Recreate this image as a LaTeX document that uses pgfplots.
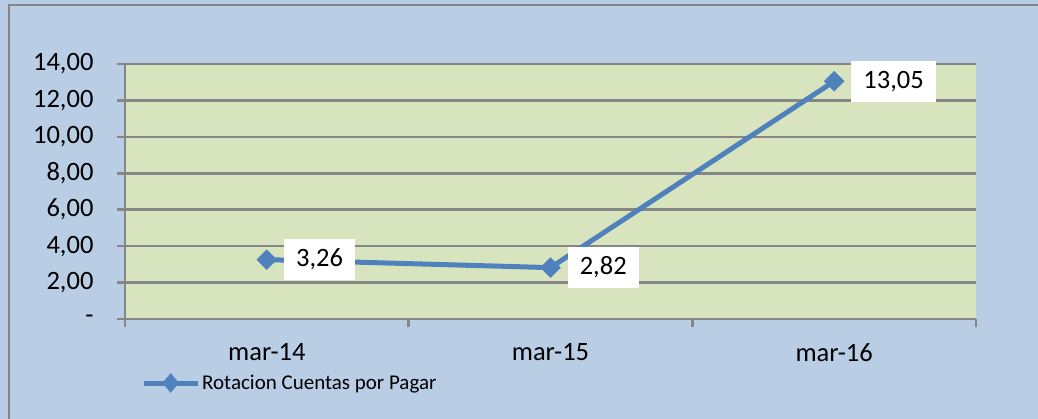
\documentclass[border=0pt]{standalone}
\usepackage{pgfplots}
\pgfplotsset{compat=1.18}
\usepackage{fontspec}
\setmainfont{Carlito}
\definecolor{bgblue}{HTML}{B9CDE5}
\definecolor{plotgreen}{HTML}{D7E4BD}
\definecolor{gridgray}{HTML}{868686}
\definecolor{lineblue}{HTML}{4F81BD}
\begin{document}
\begin{tikzpicture}[x=1pt,y=1pt]
\useasboundingbox (0,0) rectangle (1038,419);
\fill[bgblue] (0,0) rectangle (1038,419);
\draw[gridgray, line width=2.5pt] (9,-5) -- (9,414) -- (1045,414);
\begin{axis}[
  at={(125pt,100pt)}, anchor=south west,
  scale only axis, width=851pt, height=255pt,
  xmin=-0.5, xmax=2.5, ymin=0, ymax=14,
  axis background/.style={fill=plotgreen},
  axis x line*=bottom, axis y line*=left,
  axis line style={gridgray, line width=2.5pt, -},
  tick align=outside,
  xtick={0,1,2}, xticklabels={mar-14,mar-15,mar-16},
  minor xtick={-0.5,0.5,1.5,2.5},
  major x tick style={draw=none},
  minor tick length=8pt, major tick length=8pt,
  ytick={0,2,4,6,8,10,12,14},
  yticklabels={{-},{2,00},{4,00},{6,00},{8,00},{10,00},{12,00},{14,00}},
  tick style={gridgray, line width=2.5pt},
  ymajorgrids, major grid style={gridgray, line width=2.5pt},
  every tick label/.append style={font=\fontsize{26.5}{30}\selectfont, text=black},
  yticklabel style={xshift=-20pt},
  xticklabel style={yshift=-13pt},
  legend style={at={(axis description cs:0.0188,-0.251)}, anchor=west, draw=none, fill=none,
    inner sep=0pt, font=\fontsize{21}{24}\selectfont},
  legend image code/.code={
    \draw[lineblue, line width=5pt] (0pt,0pt) -- (54pt,0pt);
    \fill[lineblue] (27pt,6pt) -- (32pt,0pt) -- (27pt,-6pt) -- (22pt,0pt) -- cycle;
  },
]
\addplot[lineblue, line width=5pt, mark=square*, mark size=7pt,
  mark options={rotate=45, line width=0.5pt, fill=lineblue},
  nodes near coords={\pgfmathprintnumber[fixed,fixed zerofill,precision=2,use comma,assume math mode=true]{\pgfplotspointmeta}},
  every node near coord/.style={anchor=west, xshift=17pt, fill=white, text=black,
    inner xsep=12pt, inner ysep=0pt, minimum height=41pt, font=\fontsize{26.5}{30}\selectfont}]
  coordinates {(0,3.26) (1,2.82) (2,13.05)};
\addlegendentry{Rotacion Cuentas por Pagar}
\end{axis}
\end{tikzpicture}
\end{document}
